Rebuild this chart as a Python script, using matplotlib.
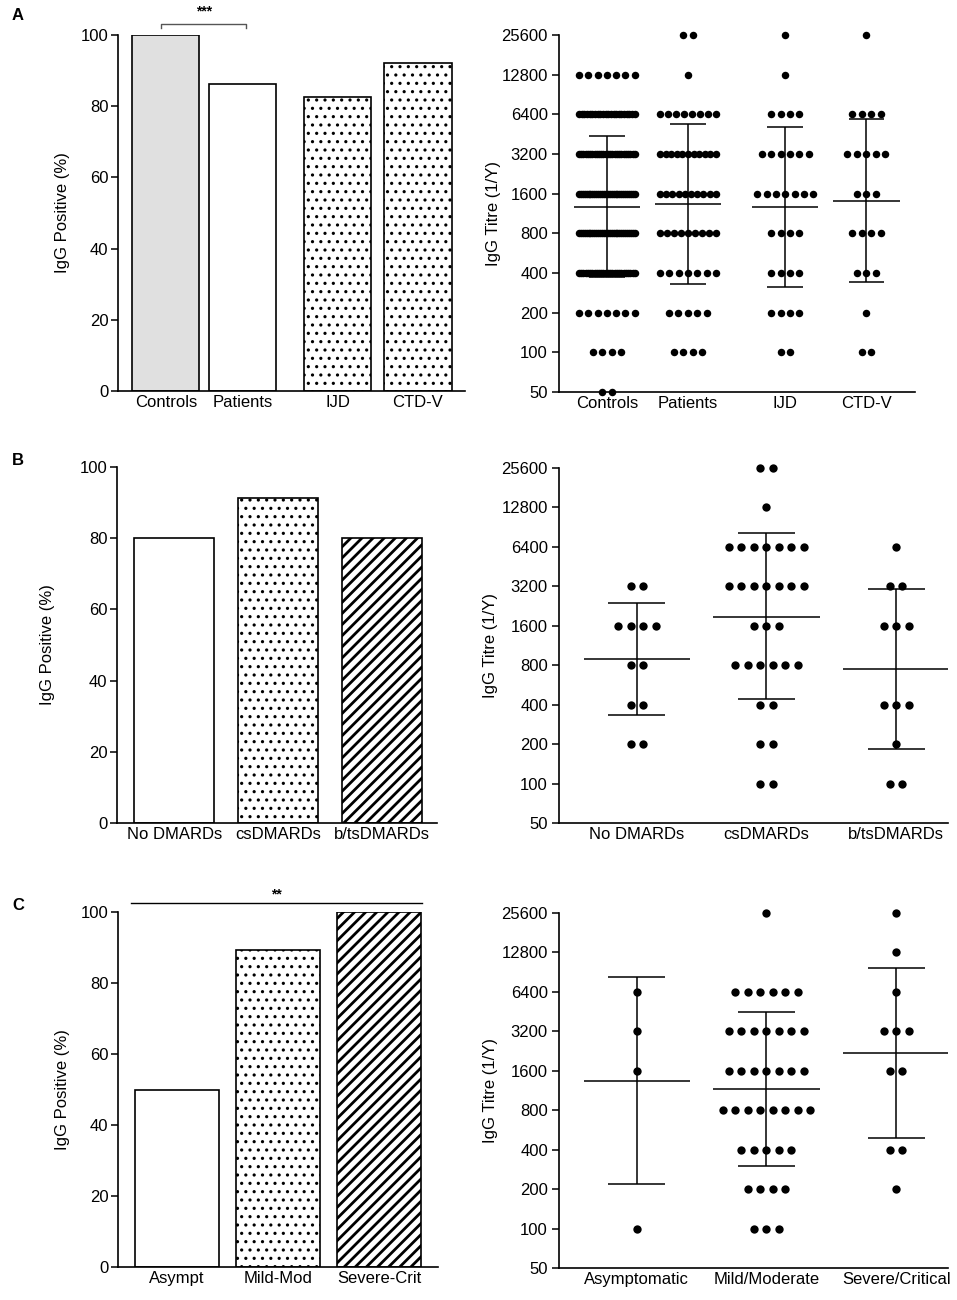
import numpy as np
import matplotlib
matplotlib.use('Agg')
import matplotlib.pyplot as plt

plt.rcParams['font.family'] = ['Liberation Sans', 'DejaVu Sans']
plt.rcParams['hatch.linewidth'] = 1.6
plt.rcParams['font.size'] = 12

# ---- data ----
titres = [25600, 12800, 6400, 3200, 1600, 800, 400, 200, 100, 50]
titre_ticks = [50, 100, 200, 400, 800, 1600, 3200, 6400, 12800, 25600]

# panel A
a_groups = ['Controls', 'Patients', 'IJD', 'CTD-V']
a_bar_pos = [0, 1, 2.23, 3.27]
a_dot_pos = [0, 1, 2.2, 3.2]
a_pct = [100, 86.2, 82.5, 92.0]
a_controls_n = [0, 7, 22, 26, 30, 30, 26, 7, 4, 2]
a_patients_n = [2, 1, 8, 11, 10, 9, 7, 5, 4, 0]
a_ijd_n = [1, 1, 4, 6, 7, 4, 4, 4, 2, 0]
a_ctdv_n = [1, 0, 4, 5, 3, 4, 3, 1, 2, 0]
a_mean = [1264, 1334, 1270, 1400]
a_low = [373, 330, 312, 341]
a_high = [4370, 5380, 5120, 5880]

# panel B
b_groups = ['No DMARDs', 'csDMARDs', 'b/tsDMARDs']
b_pct = [80, 91.3, 80]
b_none_n = [0, 0, 0, 2, 4, 2, 2, 2, 0, 0]
b_cs_n = [2, 1, 7, 7, 3, 6, 2, 2, 2, 0]
b_bts_n = [0, 0, 1, 2, 3, 0, 3, 1, 2, 0]
b_mean = [894, 1875, 751]
b_low = [334, 443, 184]
b_high = [2400, 8220, 3070]

# panel C
c_bar_labels = ['Asympt', 'Mild-Mod', 'Severe-Crit']
c_dot_labels = ['Asymptomatic', 'Mild/Moderate', 'Severe/Critical']
c_pct = [50, 89.3, 100]
c_asym_n = [0, 0, 1, 1, 1, 0, 0, 0, 1, 0]
c_mild_n = [1, 0, 6, 7, 7, 8, 5, 4, 3, 0]
c_sev_n = [1, 1, 1, 3, 2, 0, 2, 1, 0, 0]
c_mean = [1344, 1165, 2200]
c_low = [219, 301, 492]
c_high = [8380, 4520, 9790]

W, H = 957, 1300
fig = plt.figure(figsize=(W / 100, H / 100), dpi=100)

DOTS = '..'
STRIPES = '///'


def px_axes(x0, y0, x1, y1):
    return fig.add_axes([x0 / W, 1 - y1 / H, (x1 - x0) / W, (y1 - y0) / H])


def style(ax):
    for s in ['top', 'right']:
        ax.spines[s].set_visible(False)
    for s in ['left', 'bottom']:
        ax.spines[s].set_linewidth(1.2)
    ax.tick_params(axis='y', length=5, width=1.1, pad=2, labelsize=12)
    ax.tick_params(axis='x', length=0, pad=3, labelsize=12)


def bar_panel(ax, pos, vals, labels, fills, hatches, width):
    for x, v, fc, h in zip(pos, vals, fills, hatches):
        hlw = 2.0 if '/' in h else 1.1
        with plt.rc_context({'hatch.linewidth': hlw}):
            b = ax.bar(x, v, width=width, color=fc, edgecolor='black', linewidth=1.2,
                       hatch=h, zorder=2)
        for p in b:
            if hasattr(p, 'set_hatch_linewidth'):
                p.set_hatch_linewidth(hlw)
    ax.set_ylim(0, 100)
    ax.set_yticks([0, 20, 40, 60, 80, 100])
    ax.set_xticks(pos)
    ax.set_xticklabels(labels)
    ax.set_ylabel('IgG Positive (%)', fontsize=12)
    style(ax)


def swarm(ax, x0, counts, step, maxw, ms):
    xs, ys = [], []
    for lv, n in zip(titres, counts):
        if n == 0:
            continue
        s = step if (n - 1) * step <= maxw else maxw / (n - 1)
        off = (np.arange(n) - (n - 1) / 2) * s
        xs.extend(x0 + off)
        ys.extend([lv] * n)
    ax.plot(xs, ys, 'o', color='black', ms=ms, mec='black', mew=0, zorder=3,
            clip_on=False)


def err(ax, x, m, lo, hi):
    ax.hlines(m, x - 0.41, x + 0.41, color='black', lw=1.1, zorder=4)
    ax.vlines(x, lo, hi, color='black', lw=1.1, zorder=4)
    ax.hlines([lo, hi], x - 0.22, x + 0.22, color='black', lw=1.1, zorder=4)


def dot_panel(ax, pos, groups, labels, means, lows, highs, step, maxw, ms):
    for x, g in zip(pos, groups):
        swarm(ax, x, g, step, maxw, ms)
    for x, m, lo, hi in zip(pos, means, lows, highs):
        err(ax, x, m, lo, hi)
    ax.set_yscale('log', base=2)
    ax.set_ylim(50, 25600)
    ax.set_yticks(titre_ticks)
    ax.set_yticklabels([str(t) for t in titre_ticks])
    ax.minorticks_off()
    ax.set_xticks(pos)
    ax.set_xticklabels(labels)
    ax.set_ylabel('IgG Titre (1/Y)', fontsize=12)
    style(ax)
    ax.tick_params(axis='y', pad=3)


# ---- A ----
axA1 = px_axes(118, 35, 465, 391)
bar_panel(axA1, a_bar_pos, a_pct, a_groups,
          ['#e0e0e0', 'white', 'white', 'white'], ['', '', DOTS, DOTS], 0.87)
axA1.set_xlim(-0.62, 3.88)
axA1.yaxis.set_label_coords(-0.138, 0.5)
axA1.plot([-0.06, -0.06, 1.04, 1.04], [102, 103.1, 103.1, 102], color='#555555',
          lw=1.0, clip_on=False)
axA1.text(0.49, 106.5, '***', ha='center', va='center', fontsize=10, fontweight='bold')

axA2 = px_axes(559, 35, 915, 392)
dot_panel(axA2, a_dot_pos, [a_controls_n, a_patients_n, a_ijd_n, a_ctdv_n], a_groups,
          a_mean, a_low, a_high, 0.117, 0.69, 5.4)
axA2.set_xlim(-0.59, 3.8)
axA2.yaxis.set_label_coords(-0.163, 0.5)

# ---- B ----
axB1 = px_axes(117, 467, 437, 823)
bar_panel(axB1, [0, 1, 2], b_pct, b_groups, ['white'] * 3, ['', DOTS, STRIPES], 0.77)
axB1.set_xlim(-0.55, 2.53)
axB1.yaxis.set_label_coords(-0.194, 0.5)

axB2 = px_axes(559, 468, 948, 823)
dot_panel(axB2, [0, 1, 2], [b_none_n, b_cs_n, b_bts_n], b_groups,
          b_mean, b_low, b_high, 0.0965, 0.8, 6.0)
axB2.set_xlim(-0.6, 2.4)
axB2.yaxis.set_label_coords(-0.157, 0.5)

# ---- C ----
axC1 = px_axes(118, 912, 438, 1267)
bar_panel(axC1, [0, 1, 2], c_pct, c_bar_labels, ['white'] * 3, ['', DOTS, STRIPES], 0.83)
axC1.set_xlim(-0.58, 2.58)
axC1.yaxis.set_label_coords(-0.15, 0.5)
axC1.plot([-0.45, 2.42], [102.5, 102.5], color='black', lw=1.0, clip_on=False)
axC1.text(0.98, 105.0, '**', ha='center', va='center', fontsize=10, fontweight='bold')

axC2 = px_axes(559, 913, 948, 1268)
dot_panel(axC2, [0, 1, 2], [c_asym_n, c_mild_n, c_sev_n], c_dot_labels,
          c_mean, c_low, c_high, 0.0965, 0.8, 6.0)
axC2.set_xlim(-0.6, 2.4)
axC2.yaxis.set_label_coords(-0.157, 0.5)

# panel letters
for lab, y in [('A', 15), ('B', 460), ('C', 905)]:
    fig.text(12 / W, 1 - y / H, lab, fontsize=12, fontweight='bold',
             ha='left', va='center')

fig.savefig('out.png', dpi=100)
